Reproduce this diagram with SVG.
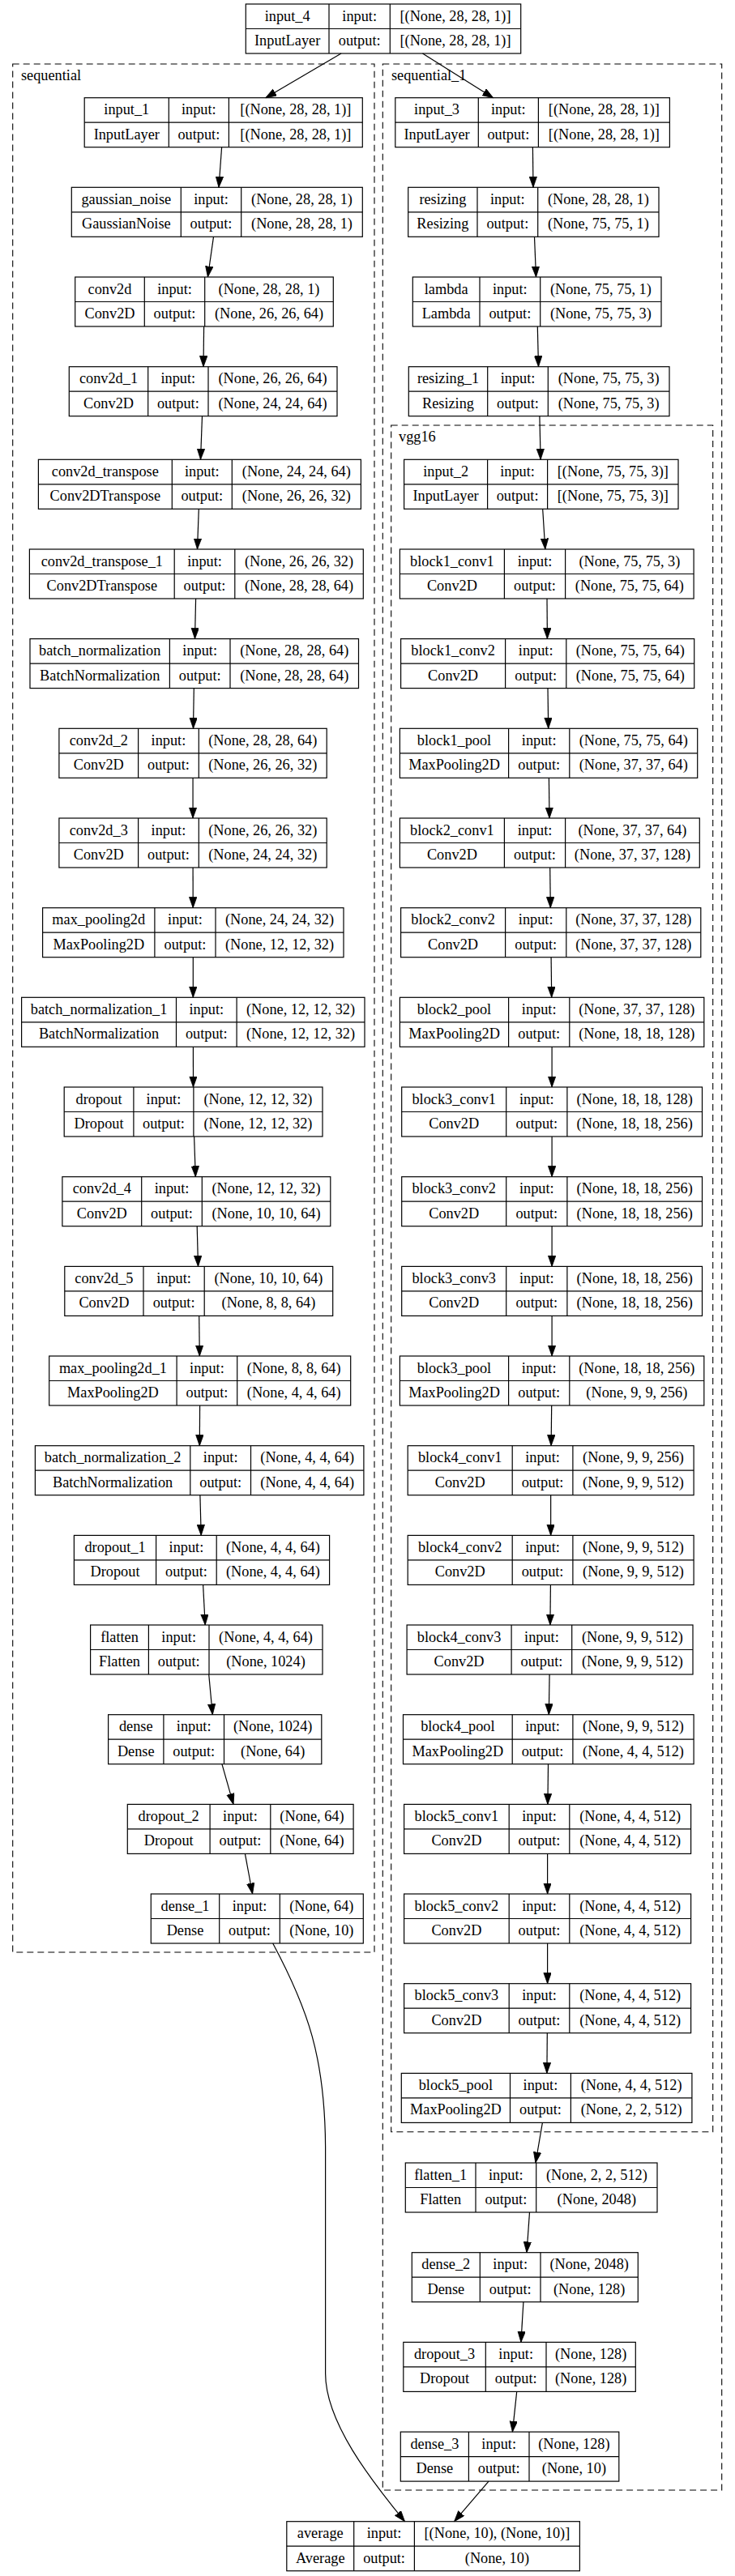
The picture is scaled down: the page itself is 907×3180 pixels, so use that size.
<svg xmlns="http://www.w3.org/2000/svg" width="907" height="3180" viewBox="0 0 907 3180">
<style>
.n rect,.n path{fill:none;stroke:#000;stroke-width:1.2}
text{font-family:"Liberation Serif","Times New Roman",serif;font-size:18.3px;text-anchor:middle;fill:#000}
.cl{fill:none;stroke:#000;stroke-width:1.1;stroke-dasharray:8,5}
.lb{text-anchor:start}
.e path{fill:none;stroke:#000;stroke-width:1.2;marker-end:url(#a)}
</style>
<defs>
<marker id="a" markerUnits="userSpaceOnUse" markerWidth="14" markerHeight="10" refX="13.3" refY="4.7" orient="auto"><path d="M0,0 L13.3,4.7 L0,9.4 Z" fill="#000" stroke="#000" stroke-width="0.8"/></marker>
</defs>
<rect x="0" y="0" width="907" height="3180" fill="#fff"/>
<g id="clusters">
<rect class="cl" x="15.7" y="79" width="446.3" height="2331"/>
<text class="lb" x="26" y="99">sequential</text>
<rect class="cl" x="472.3" y="79" width="418.4" height="2995"/>
<text class="lb" x="483" y="99">sequential_1</text>
<rect class="cl" x="482.7" y="525" width="397" height="2106.7"/>
<text class="lb" x="492" y="545">vgg16</text>
</g>
<g id="input_4" class="n" transform="translate(0,5)"><rect x="303.3" y="0" width="339.4" height="61"/><path d="M406 0V61M481.3 0V61M303.3 30.5H642.7"/><text x="354.65" y="20.6">input_4</text><text x="354.65" y="51.1">InputLayer</text><text x="443.65" y="20.6">input:</text><text x="443.65" y="51.1">output:</text><text x="562" y="20.6">[(None, 28, 28, 1)]</text><text x="562" y="51.1">[(None, 28, 28, 1)]</text></g>
<g id="input_1" class="n" transform="translate(0,120.7)"><rect x="104.2" y="0" width="343.1" height="61"/><path d="M208.3 0V61M282.4 0V61M104.2 30.5H447.3"/><text x="156.25" y="20.6">input_1</text><text x="156.25" y="51.1">InputLayer</text><text x="245.35" y="20.6">input:</text><text x="245.35" y="51.1">output:</text><text x="364.85" y="20.6">[(None, 28, 28, 1)]</text><text x="364.85" y="51.1">[(None, 28, 28, 1)]</text></g>
<g id="gaussian_noise" class="n" transform="translate(0,231.3)"><rect x="88.3" y="0" width="359" height="61"/><path d="M223.3 0V61M297.7 0V61M88.3 30.5H447.3"/><text x="155.8" y="20.6">gaussian_noise</text><text x="155.8" y="51.1">GaussianNoise</text><text x="260.5" y="20.6">input:</text><text x="260.5" y="51.1">output:</text><text x="372.5" y="20.6">(None, 28, 28, 1)</text><text x="372.5" y="51.1">(None, 28, 28, 1)</text></g>
<g id="conv2d" class="n" transform="translate(0,342)"><rect x="92.7" y="0" width="318.6" height="61"/><path d="M178.3 0V61M252.7 0V61M92.7 30.5H411.3"/><text x="135.5" y="20.6">conv2d</text><text x="135.5" y="51.1">Conv2D</text><text x="215.5" y="20.6">input:</text><text x="215.5" y="51.1">output:</text><text x="332" y="20.6">(None, 28, 28, 1)</text><text x="332" y="51.1">(None, 26, 26, 64)</text></g>
<g id="conv2d_1" class="n" transform="translate(0,452.7)"><rect x="85.3" y="0" width="330.7" height="61"/><path d="M182.7 0V61M257 0V61M85.3 30.5H416"/><text x="134" y="20.6">conv2d_1</text><text x="134" y="51.1">Conv2D</text><text x="219.85" y="20.6">input:</text><text x="219.85" y="51.1">output:</text><text x="336.5" y="20.6">(None, 26, 26, 64)</text><text x="336.5" y="51.1">(None, 24, 24, 64)</text></g>
<g id="conv2d_transpose" class="n" transform="translate(0,567.3)"><rect x="47.4" y="0" width="398" height="61"/><path d="M212.3 0V61M286.3 0V61M47.4 30.5H445.4"/><text x="129.85" y="20.6">conv2d_transpose</text><text x="129.85" y="51.1">Conv2DTranspose</text><text x="249.3" y="20.6">input:</text><text x="249.3" y="51.1">output:</text><text x="365.85" y="20.6">(None, 24, 24, 64)</text><text x="365.85" y="51.1">(None, 26, 26, 32)</text></g>
<g id="conv2d_transpose_1" class="n" transform="translate(0,678)"><rect x="36.4" y="0" width="411.9" height="61"/><path d="M215.2 0V61M289.8 0V61M36.4 30.5H448.3"/><text x="125.8" y="20.6">conv2d_transpose_1</text><text x="125.8" y="51.1">Conv2DTranspose</text><text x="252.5" y="20.6">input:</text><text x="252.5" y="51.1">output:</text><text x="369.05" y="20.6">(None, 26, 26, 32)</text><text x="369.05" y="51.1">(None, 28, 28, 64)</text></g>
<g id="batch_normalization" class="n" transform="translate(0,788.6)"><rect x="37" y="0" width="405.5" height="61"/><path d="M209.4 0V61M284 0V61M37 30.5H442.5"/><text x="123.2" y="20.6">batch_normalization</text><text x="123.2" y="51.1">BatchNormalization</text><text x="246.7" y="20.6">input:</text><text x="246.7" y="51.1">output:</text><text x="363.25" y="20.6">(None, 28, 28, 64)</text><text x="363.25" y="51.1">(None, 28, 28, 64)</text></g>
<g id="conv2d_2" class="n" transform="translate(0,899.3)"><rect x="72.9" y="0" width="330.3" height="61"/><path d="M170.6 0V61M245.3 0V61M72.9 30.5H403.2"/><text x="121.75" y="20.6">conv2d_2</text><text x="121.75" y="51.1">Conv2D</text><text x="207.95" y="20.6">input:</text><text x="207.95" y="51.1">output:</text><text x="324.25" y="20.6">(None, 28, 28, 64)</text><text x="324.25" y="51.1">(None, 26, 26, 32)</text></g>
<g id="conv2d_3" class="n" transform="translate(0,1010)"><rect x="72.9" y="0" width="330.3" height="61"/><path d="M170.6 0V61M245.3 0V61M72.9 30.5H403.2"/><text x="121.75" y="20.6">conv2d_3</text><text x="121.75" y="51.1">Conv2D</text><text x="207.95" y="20.6">input:</text><text x="207.95" y="51.1">output:</text><text x="324.25" y="20.6">(None, 26, 26, 32)</text><text x="324.25" y="51.1">(None, 24, 24, 32)</text></g>
<g id="max_pooling2d" class="n" transform="translate(0,1120.7)"><rect x="52.6" y="0" width="371.4" height="61"/><path d="M190.9 0V61M266 0V61M52.6 30.5H424"/><text x="121.75" y="20.6">max_pooling2d</text><text x="121.75" y="51.1">MaxPooling2D</text><text x="228.45" y="20.6">input:</text><text x="228.45" y="51.1">output:</text><text x="345" y="20.6">(None, 24, 24, 32)</text><text x="345" y="51.1">(None, 12, 12, 32)</text></g>
<g id="batch_normalization_1" class="n" transform="translate(0,1231.3)"><rect x="26.6" y="0" width="423.4" height="61"/><path d="M217.5 0V61M292.1 0V61M26.6 30.5H450"/><text x="122.05" y="20.6">batch_normalization_1</text><text x="122.05" y="51.1">BatchNormalization</text><text x="254.8" y="20.6">input:</text><text x="254.8" y="51.1">output:</text><text x="371.05" y="20.6">(None, 12, 12, 32)</text><text x="371.05" y="51.1">(None, 12, 12, 32)</text></g>
<g id="dropout" class="n" transform="translate(0,1342)"><rect x="79.2" y="0" width="318.8" height="61"/><path d="M164.9 0V61M238.9 0V61M79.2 30.5H398"/><text x="122.05" y="20.6">dropout</text><text x="122.05" y="51.1">Dropout</text><text x="201.9" y="20.6">input:</text><text x="201.9" y="51.1">output:</text><text x="318.45" y="20.6">(None, 12, 12, 32)</text><text x="318.45" y="51.1">(None, 12, 12, 32)</text></g>
<g id="conv2d_4" class="n" transform="translate(0,1452.7)"><rect x="76.9" y="0" width="330.9" height="61"/><path d="M174.7 0V61M249.3 0V61M76.9 30.5H407.8"/><text x="125.8" y="20.6">conv2d_4</text><text x="125.8" y="51.1">Conv2D</text><text x="212" y="20.6">input:</text><text x="212" y="51.1">output:</text><text x="328.55" y="20.6">(None, 12, 12, 32)</text><text x="328.55" y="51.1">(None, 10, 10, 64)</text></g>
<g id="conv2d_5" class="n" transform="translate(0,1563.4)"><rect x="79.8" y="0" width="330.9" height="61"/><path d="M177 0V61M252.2 0V61M79.8 30.5H410.7"/><text x="128.4" y="20.6">conv2d_5</text><text x="128.4" y="51.1">Conv2D</text><text x="214.6" y="20.6">input:</text><text x="214.6" y="51.1">output:</text><text x="331.45" y="20.6">(None, 10, 10, 64)</text><text x="331.45" y="51.1">(None, 8, 8, 64)</text></g>
<g id="max_pooling2d_1" class="n" transform="translate(0,1674)"><rect x="60.7" y="0" width="372" height="61"/><path d="M218.1 0V61M292.7 0V61M60.7 30.5H432.7"/><text x="139.4" y="20.6">max_pooling2d_1</text><text x="139.4" y="51.1">MaxPooling2D</text><text x="255.4" y="20.6">input:</text><text x="255.4" y="51.1">output:</text><text x="362.7" y="20.6">(None, 8, 8, 64)</text><text x="362.7" y="51.1">(None, 4, 4, 64)</text></g>
<g id="batch_normalization_2" class="n" transform="translate(0,1784.7)"><rect x="43.4" y="0" width="405.5" height="61"/><path d="M234.8 0V61M309.5 0V61M43.4 30.5H448.9"/><text x="139.1" y="20.6">batch_normalization_2</text><text x="139.1" y="51.1">BatchNormalization</text><text x="272.15" y="20.6">input:</text><text x="272.15" y="51.1">output:</text><text x="379.2" y="20.6">(None, 4, 4, 64)</text><text x="379.2" y="51.1">(None, 4, 4, 64)</text></g>
<g id="dropout_1" class="n" transform="translate(0,1895.4)"><rect x="91.4" y="0" width="315.2" height="61"/><path d="M192.6 0V61M267.2 0V61M91.4 30.5H406.6"/><text x="142" y="20.6">dropout_1</text><text x="142" y="51.1">Dropout</text><text x="229.9" y="20.6">input:</text><text x="229.9" y="51.1">output:</text><text x="336.9" y="20.6">(None, 4, 4, 64)</text><text x="336.9" y="51.1">(None, 4, 4, 64)</text></g>
<g id="flatten" class="n" transform="translate(0,2006)"><rect x="111.6" y="0" width="286.4" height="61"/><path d="M183.4 0V61M258 0V61M111.6 30.5H398"/><text x="147.5" y="20.6">flatten</text><text x="147.5" y="51.1">Flatten</text><text x="220.7" y="20.6">input:</text><text x="220.7" y="51.1">output:</text><text x="328" y="20.6">(None, 4, 4, 64)</text><text x="328" y="51.1">(None, 1024)</text></g>
<g id="dense" class="n" transform="translate(0,2116.7)"><rect x="133.6" y="0" width="263.2" height="61"/><path d="M201.9 0V61M276.5 0V61M133.6 30.5H396.8"/><text x="167.75" y="20.6">dense</text><text x="167.75" y="51.1">Dense</text><text x="239.2" y="20.6">input:</text><text x="239.2" y="51.1">output:</text><text x="336.65" y="20.6">(None, 1024)</text><text x="336.65" y="51.1">(None, 64)</text></g>
<g id="dropout_2" class="n" transform="translate(0,2227.4)"><rect x="157.3" y="0" width="278.8" height="61"/><path d="M259.1 0V61M333.8 0V61M157.3 30.5H436.1"/><text x="208.2" y="20.6">dropout_2</text><text x="208.2" y="51.1">Dropout</text><text x="296.45" y="20.6">input:</text><text x="296.45" y="51.1">output:</text><text x="384.95" y="20.6">(None, 64)</text><text x="384.95" y="51.1">(None, 64)</text></g>
<g id="dense_1" class="n" transform="translate(0,2338)"><rect x="186.3" y="0" width="262" height="61"/><path d="M270.7 0V61M345.3 0V61M186.3 30.5H448.3"/><text x="228.5" y="20.6">dense_1</text><text x="228.5" y="51.1">Dense</text><text x="308" y="20.6">input:</text><text x="308" y="51.1">output:</text><text x="396.8" y="20.6">(None, 64)</text><text x="396.8" y="51.1">(None, 10)</text></g>
<g id="input_3" class="n" transform="translate(0,120.7)"><rect x="487.8" y="0" width="338.6" height="61"/><path d="M590.3 0V61M664.4 0V61M487.8 30.5H826.4"/><text x="539.05" y="20.6">input_3</text><text x="539.05" y="51.1">InputLayer</text><text x="627.35" y="20.6">input:</text><text x="627.35" y="51.1">output:</text><text x="745.4" y="20.6">[(None, 28, 28, 1)]</text><text x="745.4" y="51.1">[(None, 28, 28, 1)]</text></g>
<g id="resizing" class="n" transform="translate(0,231.3)"><rect x="503.7" y="0" width="309.3" height="61"/><path d="M589 0V61M663.7 0V61M503.7 30.5H813"/><text x="546.35" y="20.6">resizing</text><text x="546.35" y="51.1">Resizing</text><text x="626.35" y="20.6">input:</text><text x="626.35" y="51.1">output:</text><text x="738.35" y="20.6">(None, 28, 28, 1)</text><text x="738.35" y="51.1">(None, 75, 75, 1)</text></g>
<g id="lambda" class="n" transform="translate(0,342)"><rect x="509.3" y="0" width="306.7" height="61"/><path d="M592 0V61M666.7 0V61M509.3 30.5H816"/><text x="550.65" y="20.6">lambda</text><text x="550.65" y="51.1">Lambda</text><text x="629.35" y="20.6">input:</text><text x="629.35" y="51.1">output:</text><text x="741.35" y="20.6">(None, 75, 75, 1)</text><text x="741.35" y="51.1">(None, 75, 75, 3)</text></g>
<g id="resizing_1" class="n" transform="translate(0,452.7)"><rect x="504.3" y="0" width="321.7" height="61"/><path d="M601.7 0V61M676.3 0V61M504.3 30.5H826"/><text x="553" y="20.6">resizing_1</text><text x="553" y="51.1">Resizing</text><text x="639" y="20.6">input:</text><text x="639" y="51.1">output:</text><text x="751.15" y="20.6">(None, 75, 75, 3)</text><text x="751.15" y="51.1">(None, 75, 75, 3)</text></g>
<g id="input_2" class="n" transform="translate(0,567.3)"><rect x="498.6" y="0" width="338.4" height="61"/><path d="M601.6 0V61M675.6 0V61M498.6 30.5H837"/><text x="550.1" y="20.6">input_2</text><text x="550.1" y="51.1">InputLayer</text><text x="638.6" y="20.6">input:</text><text x="638.6" y="51.1">output:</text><text x="756.3" y="20.6">[(None, 75, 75, 3)]</text><text x="756.3" y="51.1">[(None, 75, 75, 3)]</text></g>
<g id="block1_conv1" class="n" transform="translate(0,678)"><rect x="493.4" y="0" width="362.7" height="61"/><path d="M622.4 0V61M697.6 0V61M493.4 30.5H856.1"/><text x="557.9" y="20.6">block1_conv1</text><text x="557.9" y="51.1">Conv2D</text><text x="660" y="20.6">input:</text><text x="660" y="51.1">output:</text><text x="776.85" y="20.6">(None, 75, 75, 3)</text><text x="776.85" y="51.1">(None, 75, 75, 64)</text></g>
<g id="block1_conv2" class="n" transform="translate(0,788.6)"><rect x="494.6" y="0" width="362.1" height="61"/><path d="M623.6 0V61M698.8 0V61M494.6 30.5H856.7"/><text x="559.1" y="20.6">block1_conv2</text><text x="559.1" y="51.1">Conv2D</text><text x="661.2" y="20.6">input:</text><text x="661.2" y="51.1">output:</text><text x="777.75" y="20.6">(None, 75, 75, 64)</text><text x="777.75" y="51.1">(None, 75, 75, 64)</text></g>
<g id="block1_pool" class="n" transform="translate(0,899.3)"><rect x="493.4" y="0" width="367.3" height="61"/><path d="M627.6 0V61M702.8 0V61M493.4 30.5H860.7"/><text x="560.5" y="20.6">block1_pool</text><text x="560.5" y="51.1">MaxPooling2D</text><text x="665.2" y="20.6">input:</text><text x="665.2" y="51.1">output:</text><text x="781.75" y="20.6">(None, 75, 75, 64)</text><text x="781.75" y="51.1">(None, 37, 37, 64)</text></g>
<g id="block2_conv1" class="n" transform="translate(0,1010)"><rect x="493.4" y="0" width="369.9" height="61"/><path d="M622.4 0V61M697.6 0V61M493.4 30.5H863.3"/><text x="557.9" y="20.6">block2_conv1</text><text x="557.9" y="51.1">Conv2D</text><text x="660" y="20.6">input:</text><text x="660" y="51.1">output:</text><text x="780.45" y="20.6">(None, 37, 37, 64)</text><text x="780.45" y="51.1">(None, 37, 37, 128)</text></g>
<g id="block2_conv2" class="n" transform="translate(0,1120.7)"><rect x="494.6" y="0" width="370.2" height="61"/><path d="M623.6 0V61M698.8 0V61M494.6 30.5H864.8"/><text x="559.1" y="20.6">block2_conv2</text><text x="559.1" y="51.1">Conv2D</text><text x="661.2" y="20.6">input:</text><text x="661.2" y="51.1">output:</text><text x="781.8" y="20.6">(None, 37, 37, 128)</text><text x="781.8" y="51.1">(None, 37, 37, 128)</text></g>
<g id="block2_pool" class="n" transform="translate(0,1231.3)"><rect x="493.4" y="0" width="375.4" height="61"/><path d="M627.6 0V61M702.8 0V61M493.4 30.5H868.8"/><text x="560.5" y="20.6">block2_pool</text><text x="560.5" y="51.1">MaxPooling2D</text><text x="665.2" y="20.6">input:</text><text x="665.2" y="51.1">output:</text><text x="785.8" y="20.6">(None, 37, 37, 128)</text><text x="785.8" y="51.1">(None, 18, 18, 128)</text></g>
<g id="block3_conv1" class="n" transform="translate(0,1342)"><rect x="495.7" y="0" width="370.8" height="61"/><path d="M624.7 0V61M699.9 0V61M495.7 30.5H866.5"/><text x="560.2" y="20.6">block3_conv1</text><text x="560.2" y="51.1">Conv2D</text><text x="662.3" y="20.6">input:</text><text x="662.3" y="51.1">output:</text><text x="783.2" y="20.6">(None, 18, 18, 128)</text><text x="783.2" y="51.1">(None, 18, 18, 256)</text></g>
<g id="block3_conv2" class="n" transform="translate(0,1452.7)"><rect x="495.7" y="0" width="370.8" height="61"/><path d="M624.7 0V61M699.9 0V61M495.7 30.5H866.5"/><text x="560.2" y="20.6">block3_conv2</text><text x="560.2" y="51.1">Conv2D</text><text x="662.3" y="20.6">input:</text><text x="662.3" y="51.1">output:</text><text x="783.2" y="20.6">(None, 18, 18, 256)</text><text x="783.2" y="51.1">(None, 18, 18, 256)</text></g>
<g id="block3_conv3" class="n" transform="translate(0,1563.4)"><rect x="495.7" y="0" width="370.8" height="61"/><path d="M624.7 0V61M699.9 0V61M495.7 30.5H866.5"/><text x="560.2" y="20.6">block3_conv3</text><text x="560.2" y="51.1">Conv2D</text><text x="662.3" y="20.6">input:</text><text x="662.3" y="51.1">output:</text><text x="783.2" y="20.6">(None, 18, 18, 256)</text><text x="783.2" y="51.1">(None, 18, 18, 256)</text></g>
<g id="block3_pool" class="n" transform="translate(0,1674)"><rect x="493.4" y="0" width="375.4" height="61"/><path d="M627.6 0V61M702.8 0V61M493.4 30.5H868.8"/><text x="560.5" y="20.6">block3_pool</text><text x="560.5" y="51.1">MaxPooling2D</text><text x="665.2" y="20.6">input:</text><text x="665.2" y="51.1">output:</text><text x="785.8" y="20.6">(None, 18, 18, 256)</text><text x="785.8" y="51.1">(None, 9, 9, 256)</text></g>
<g id="block4_conv1" class="n" transform="translate(0,1784.7)"><rect x="503.2" y="0" width="352.9" height="61"/><path d="M632.2 0V61M706.9 0V61M503.2 30.5H856.1"/><text x="567.7" y="20.6">block4_conv1</text><text x="567.7" y="51.1">Conv2D</text><text x="669.55" y="20.6">input:</text><text x="669.55" y="51.1">output:</text><text x="781.5" y="20.6">(None, 9, 9, 256)</text><text x="781.5" y="51.1">(None, 9, 9, 512)</text></g>
<g id="block4_conv2" class="n" transform="translate(0,1895.4)"><rect x="503.2" y="0" width="352.9" height="61"/><path d="M632.2 0V61M706.9 0V61M503.2 30.5H856.1"/><text x="567.7" y="20.6">block4_conv2</text><text x="567.7" y="51.1">Conv2D</text><text x="669.55" y="20.6">input:</text><text x="669.55" y="51.1">output:</text><text x="781.5" y="20.6">(None, 9, 9, 512)</text><text x="781.5" y="51.1">(None, 9, 9, 512)</text></g>
<g id="block4_conv3" class="n" transform="translate(0,2006)"><rect x="502.1" y="0" width="352.9" height="61"/><path d="M631.1 0V61M705.7 0V61M502.1 30.5H855"/><text x="566.6" y="20.6">block4_conv3</text><text x="566.6" y="51.1">Conv2D</text><text x="668.4" y="20.6">input:</text><text x="668.4" y="51.1">output:</text><text x="780.35" y="20.6">(None, 9, 9, 512)</text><text x="780.35" y="51.1">(None, 9, 9, 512)</text></g>
<g id="block4_pool" class="n" transform="translate(0,2116.7)"><rect x="497.5" y="0" width="358.6" height="61"/><path d="M632.2 0V61M706.9 0V61M497.5 30.5H856.1"/><text x="564.85" y="20.6">block4_pool</text><text x="564.85" y="51.1">MaxPooling2D</text><text x="669.55" y="20.6">input:</text><text x="669.55" y="51.1">output:</text><text x="781.5" y="20.6">(None, 9, 9, 512)</text><text x="781.5" y="51.1">(None, 4, 4, 512)</text></g>
<g id="block5_conv1" class="n" transform="translate(0,2227.4)"><rect x="498.6" y="0" width="354" height="61"/><path d="M628.2 0V61M702.8 0V61M498.6 30.5H852.6"/><text x="563.4" y="20.6">block5_conv1</text><text x="563.4" y="51.1">Conv2D</text><text x="665.5" y="20.6">input:</text><text x="665.5" y="51.1">output:</text><text x="777.7" y="20.6">(None, 4, 4, 512)</text><text x="777.7" y="51.1">(None, 4, 4, 512)</text></g>
<g id="block5_conv2" class="n" transform="translate(0,2338)"><rect x="498.6" y="0" width="354" height="61"/><path d="M628.2 0V61M702.8 0V61M498.6 30.5H852.6"/><text x="563.4" y="20.6">block5_conv2</text><text x="563.4" y="51.1">Conv2D</text><text x="665.5" y="20.6">input:</text><text x="665.5" y="51.1">output:</text><text x="777.7" y="20.6">(None, 4, 4, 512)</text><text x="777.7" y="51.1">(None, 4, 4, 512)</text></g>
<g id="block5_conv3" class="n" transform="translate(0,2448.7)"><rect x="498.6" y="0" width="354" height="61"/><path d="M628.2 0V61M702.8 0V61M498.6 30.5H852.6"/><text x="563.4" y="20.6">block5_conv3</text><text x="563.4" y="51.1">Conv2D</text><text x="665.5" y="20.6">input:</text><text x="665.5" y="51.1">output:</text><text x="777.7" y="20.6">(None, 4, 4, 512)</text><text x="777.7" y="51.1">(None, 4, 4, 512)</text></g>
<g id="block5_pool" class="n" transform="translate(0,2559.4)"><rect x="495.3" y="0" width="358.6" height="61"/><path d="M629.5 0V61M704.4 0V61M495.3 30.5H853.9"/><text x="562.4" y="20.6">block5_pool</text><text x="562.4" y="51.1">MaxPooling2D</text><text x="666.95" y="20.6">input:</text><text x="666.95" y="51.1">output:</text><text x="779.15" y="20.6">(None, 4, 4, 512)</text><text x="779.15" y="51.1">(None, 2, 2, 512)</text></g>
<g id="flatten_1" class="n" transform="translate(0,2670)"><rect x="500.3" y="0" width="310.7" height="61"/><path d="M587 0V61M661.7 0V61M500.3 30.5H811"/><text x="543.65" y="20.6">flatten_1</text><text x="543.65" y="51.1">Flatten</text><text x="624.35" y="20.6">input:</text><text x="624.35" y="51.1">output:</text><text x="736.35" y="20.6">(None, 2, 2, 512)</text><text x="736.35" y="51.1">(None, 2048)</text></g>
<g id="dense_2" class="n" transform="translate(0,2780.7)"><rect x="508.3" y="0" width="279" height="61"/><path d="M592.3 0V61M667 0V61M508.3 30.5H787.3"/><text x="550.3" y="20.6">dense_2</text><text x="550.3" y="51.1">Dense</text><text x="629.65" y="20.6">input:</text><text x="629.65" y="51.1">output:</text><text x="727.15" y="20.6">(None, 2048)</text><text x="727.15" y="51.1">(None, 128)</text></g>
<g id="dropout_3" class="n" transform="translate(0,2891.4)"><rect x="497.8" y="0" width="286.5" height="61"/><path d="M599.3 0V61M674 0V61M497.8 30.5H784.3"/><text x="548.55" y="20.6">dropout_3</text><text x="548.55" y="51.1">Dropout</text><text x="636.65" y="20.6">input:</text><text x="636.65" y="51.1">output:</text><text x="729.15" y="20.6">(None, 128)</text><text x="729.15" y="51.1">(None, 128)</text></g>
<g id="dense_3" class="n" transform="translate(0,3002.1)"><rect x="494.3" y="0" width="269.5" height="61"/><path d="M578.4 0V61M653 0V61M494.3 30.5H763.8"/><text x="536.35" y="20.6">dense_3</text><text x="536.35" y="51.1">Dense</text><text x="615.7" y="20.6">input:</text><text x="615.7" y="51.1">output:</text><text x="708.4" y="20.6">(None, 128)</text><text x="708.4" y="51.1">(None, 10)</text></g>
<g id="average" class="n" transform="translate(0,3112.7)"><rect x="353.8" y="0" width="361.6" height="61"/><path d="M436.7 0V61M511.4 0V61M353.8 30.5H715.4"/><text x="395.25" y="20.6">average</text><text x="395.25" y="51.1">Average</text><text x="474.05" y="20.6">input:</text><text x="474.05" y="51.1">output:</text><text x="613.4" y="20.6">[(None, 10), (None, 10)]</text><text x="613.4" y="51.1">(None, 10)</text></g>
<g id="connectors" class="e">
<path d="M421 66L327.8 120.7"/>
<path d="M521.5 66L608.6 120.7"/>
<path d="M273.6 181.7L270 231.3"/>
<path d="M263.5 292.3L256.4 342"/>
<path d="M251.6 403L251 452.7"/>
<path d="M249.5 513.7L247.5 567.3"/>
<path d="M245.3 628.3L243.5 678"/>
<path d="M241.6 739L240.5 788.6"/>
<path d="M239.3 849.6L238.5 899.3"/>
<path d="M238.05 960.3L238.05 1010"/>
<path d="M238.1 1071L238.2 1120.7"/>
<path d="M238.3 1181.7L238.3 1231.3"/>
<path d="M238.4 1292.3L238.5 1342"/>
<path d="M239.6 1403L241.3 1452.7"/>
<path d="M243.2 1513.7L244.5 1563.4"/>
<path d="M245.7 1624.4L246.3 1674"/>
<path d="M246.6 1735L246.3 1784.7"/>
<path d="M246.9 1845.7L248.2 1895.4"/>
<path d="M250.6 1956.4L253.2 2006"/>
<path d="M257.7 2067L262.3 2116.7"/>
<path d="M273.9 2177.7L288 2227.4"/>
<path d="M302.4 2288.4L311.6 2338"/>
<path d="M657.4 181.7L658 231.3"/>
<path d="M659.5 292.3L661.5 342"/>
<path d="M663.3 403L664.5 452.7"/>
<path d="M665.9 513.7L667.1 567.3"/>
<path d="M669.7 628.3L672.8 678"/>
<path d="M675 739L675.4 788.6"/>
<path d="M676 849.6L676.7 899.3"/>
<path d="M677.4 960.3L678 1010"/>
<path d="M678.7 1071L679.3 1120.7"/>
<path d="M680.1 1181.7L680.7 1231.3"/>
<path d="M681.1 1292.3L681.1 1342"/>
<path d="M681.1 1403L681.1 1452.7"/>
<path d="M681.1 1513.7L681.1 1563.4"/>
<path d="M681.1 1624.4L681.1 1674"/>
<path d="M680.7 1735L680.1 1784.7"/>
<path d="M679.65 1845.7L679.65 1895.4"/>
<path d="M679.4 1956.4L678.9 2006"/>
<path d="M678.1 2067L677.3 2116.7"/>
<path d="M676.5 2177.7L675.9 2227.4"/>
<path d="M675.6 2288.4L675.6 2338"/>
<path d="M675.6 2399L675.6 2448.7"/>
<path d="M675.3 2509.7L674.9 2559.4"/>
<path d="M669.4 2620.4L660.9 2670"/>
<path d="M653.5 2731L650 2780.7"/>
<path d="M645.9 2841.7L642.9 2891.4"/>
<path d="M637.7 2952.4L632.4 3002.1"/>
<path d="M603 3063.1L560.6 3112.7"/>
<path d="M336.7 2399C380 2480 401 2540 401.6 2650L401.6 2930C401.6 2990 458 3062 499.5 3112.7"/>
</g>
</svg>
